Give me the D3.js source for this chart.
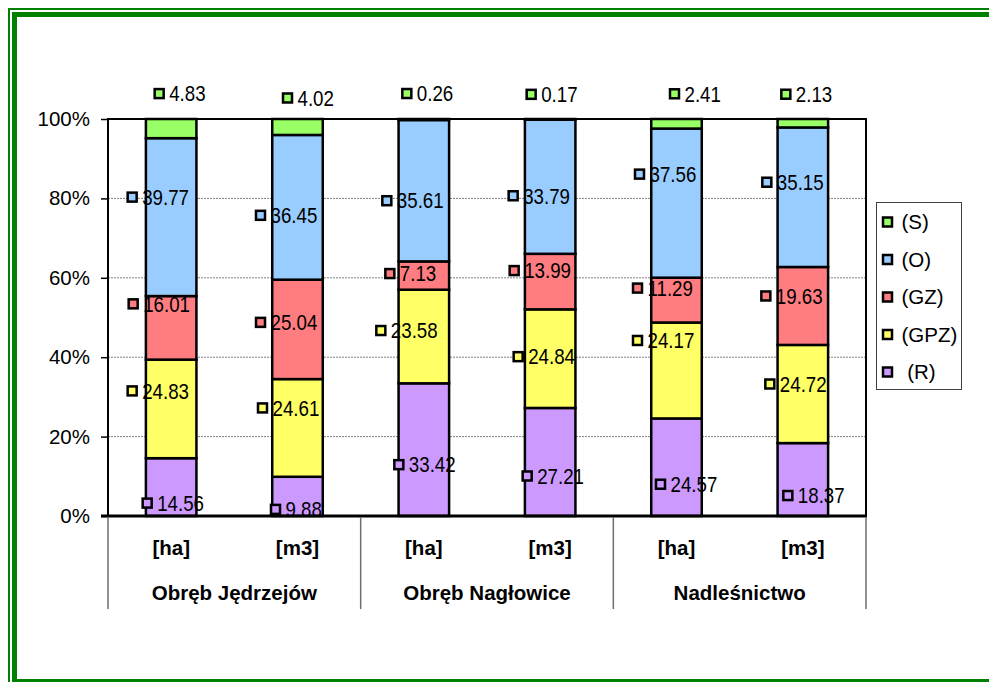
<!DOCTYPE html>
<html>
<head>
<meta charset="utf-8">
<script src="https://cdn.jsdelivr.net/npm/d3@7"></script>
<style>
  html, body { margin: 0; padding: 0; background: #fff; }
  svg { display: block; font-family: "Liberation Sans", Arial, sans-serif; }
</style>
</head>
<body>
<div id="chart"></div>
<script>
// bars (units) and their groups
const bars = ["[ha]", "[m3]", "[ha]", "[m3]", "[ha]", "[m3]"];
const groups = ["Obręb Jędrzejów", "Obręb Nagłowice", "Nadleśnictwo"];

// series, bottom to top of the stack
const seriesNames = ["(R)", "(GPZ)", "(GZ)", "(O)", "(S)"];
const valR   = [14.56, 9.88, 33.42, 27.21, 24.57, 18.37];
const valGPZ = [24.83, 24.61, 23.58, 24.84, 24.17, 24.72];
const valGZ  = [16.01, 25.04, 7.13, 13.99, 11.29, 19.63];
const valO   = [39.77, 36.45, 35.61, 33.79, 37.56, 35.15];
const valS   = [4.83, 4.02, 0.26, 0.17, 2.41, 2.13];
const yTicks = [0, 0.2, 0.4, 0.6, 0.8, 1];

const colors = {"(R)": "#cc99ff", "(GPZ)": "#ffff66", "(GZ)": "#ff7c80", "(O)": "#99ccff", "(S)": "#99ff66"};

// manual label offsets (px) from segment centre, as placed in the original
const labelNudge = {
  "(R)":   [[-24, 16], [-22, 13], [-25, 15], [-23, 14], [-16, 17], [-15, 16]],
  "(GPZ)": [[-39, -18], [-35, -20], [-43, -6], [-32, -2], [-39, -30], [-33, -10]],
  "(GZ)":  [[-38, -24], [-37, -7], [-34, -2], [-36, -11], [-39, -12], [-37, -10]],
  "(O)":   [[-39, -20], [-37, 8], [-37, 10], [-37, 9], [-37, -29], [-36, -15]],
  "(S)":   [[-12, -35], [-10, -29], [-17, -26], [-19, -25], [-2, -30], [-17, -29]]
};

const W = 989, H = 682;
const plot = {left: 108, right: 866, top: 119, bottom: 516};

const rows = bars.map((b, i) => ({
  id: String(i), unit: b,
  "(R)": valR[i], "(GPZ)": valGPZ[i], "(GZ)": valGZ[i], "(O)": valO[i], "(S)": valS[i]
}));

const stacked = d3.stack().keys(seriesNames)
  .offset(d3.stackOffsetExpand)(rows);

const svg = d3.select("#chart").append("svg")
  .attr("width", W)
  .attr("height", H);

svg.append("rect").attr("width", W).attr("height", H).attr("fill", "#fff");

// green double frame
svg.append("rect")
  .attr("x", 9).attr("y", 9).attr("width", 1000).attr("height", 690)
  .attr("fill", "none").attr("stroke", "#008000").attr("stroke-width", 2);
svg.append("rect")
  .attr("x", 14.5).attr("y", 14.5).attr("width", 1000).attr("height", 667)
  .attr("fill", "none").attr("stroke", "#008000").attr("stroke-width", 5);

const x = d3.scaleBand()
  .domain(rows.map(d => d.id))
  .range([plot.left, plot.right])
  .paddingInner(0.6)
  .paddingOuter(0.3);

const y = d3.scaleLinear().domain([0, 1]).range([plot.bottom, plot.top]);

// gridlines
svg.append("g")
  .selectAll("line")
  .data(yTicks.filter(t => t > 0 && t < 1))
  .enter().append("line")
  .attr("x1", plot.left).attr("x2", plot.right)
  .attr("y1", d => y(d)).attr("y2", d => y(d))
  .attr("stroke", "#808080")
  .attr("stroke-width", 1)
  .attr("stroke-dasharray", "2,1");

// y axis
const yAxis = svg.append("g")
  .attr("transform", `translate(${plot.left},0)`)
  .call(d3.axisLeft(y).tickValues(yTicks).tickFormat(d3.format(".0%")).tickSize(7).tickPadding(11));
yAxis.select(".domain").remove();
yAxis.selectAll(".tick line").attr("stroke", "#000").attr("stroke-width", 1.5);
yAxis.selectAll(".tick text")
  .attr("font-size", 20.5)
  .attr("fill", "#000")
  .attr("font-family", "Liberation Sans, Arial, sans-serif");

// bars
const layer = svg.append("g")
  .selectAll("g")
  .data(stacked)
  .enter().append("g")
  .attr("fill", d => colors[d.key]);

layer.selectAll("rect")
  .data(d => d)
  .enter().append("rect")
  .attr("x", d => x(d.data.id))
  .attr("width", x.bandwidth())
  .attr("y", d => y(d[1]))
  .attr("height", d => y(d[0]) - y(d[1]))
  .attr("stroke", "#000")
  .attr("stroke-width", 2.5);

// plot frame
svg.append("path")
  .attr("d", `M${plot.left},${plot.bottom}V${plot.top}H${plot.right}V${plot.bottom}`)
  .attr("fill", "none").attr("stroke", "#000").attr("stroke-width", 2);
svg.append("line")
  .attr("x1", plot.left - 7).attr("x2", plot.right + 1)
  .attr("y1", plot.bottom).attr("y2", plot.bottom)
  .attr("stroke", "#000").attr("stroke-width", 3);

// group separators
const groupStep = (plot.right - plot.left) / groups.length;
svg.append("g")
  .selectAll("line")
  .data(d3.range(groups.length + 1))
  .enter().append("line")
  .attr("x1", i => plot.left + i * groupStep)
  .attr("x2", i => plot.left + i * groupStep)
  .attr("y1", plot.bottom + 1).attr("y2", 609)
  .attr("stroke", "#6e6e6e").attr("stroke-width", 1.5);

// unit labels
svg.append("g")
  .selectAll("text")
  .data(rows)
  .enter().append("text")
  .attr("x", d => x(d.id) + x.bandwidth() / 2)
  .attr("y", 555)
  .attr("text-anchor", "middle")
  .attr("font-size", 20.5)
  .attr("font-weight", "bold")
  .text(d => d.unit);

// group labels
svg.append("g")
  .selectAll("text")
  .data(groups)
  .enter().append("text")
  .attr("x", (d, i) => plot.left + (i + 0.5) * groupStep)
  .attr("y", 600)
  .attr("text-anchor", "middle")
  .attr("font-size", 20.5)
  .attr("font-weight", "bold")
  .text(d => d);

// data labels with legend keys
const labelData = [];
stacked.forEach(s => {
  s.forEach((d, i) => {
    const nudge = labelNudge[s.key][i];
    labelData.push({
      key: s.key,
      value: d.data[s.key],
      cx: x(d.data.id) + x.bandwidth() / 2 + nudge[0],
      cy: (y(d[0]) + y(d[1])) / 2 + nudge[1]
    });
  });
});

const labels = svg.append("g")
  .selectAll("g")
  .data(labelData)
  .enter().append("g")
  .attr("transform", d => `translate(${d.cx},${d.cy})`);

labels.append("rect")
  .attr("x", -4.5).attr("y", -4.5)
  .attr("width", 9).attr("height", 9)
  .attr("fill", d => colors[d.key])
  .attr("stroke", "#000")
  .attr("stroke-width", 2.5);

// narrow, tall digits like the original
labels.append("text")
  .attr("transform", "translate(10,0) scale(0.87,1)")
  .attr("dy", "0.36em")
  .attr("font-size", 21.5)
  .attr("fill", "#000")
  .text(d => d3.format(".2f")(d.value));

// legend
const legend = svg.append("g");
legend.append("rect")
  .attr("x", 876.5).attr("y", 202.5)
  .attr("width", 85).attr("height", 187)
  .attr("fill", "#fff").attr("stroke", "#404040").attr("stroke-width", 1);

const legendOrder = seriesNames.slice().reverse();
const legendY = d3.scalePoint().domain(legendOrder).range([222, 372]);

const li = legend.selectAll("g.item")
  .data(legendOrder)
  .enter().append("g")
  .attr("class", "item")
  .attr("transform", d => `translate(887.5,${legendY(d)})`);

li.append("rect")
  .attr("x", -4.5).attr("y", -4.5)
  .attr("width", 9).attr("height", 9)
  .attr("fill", d => colors[d])
  .attr("stroke", "#000")
  .attr("stroke-width", 2.5);

li.append("text")
  .attr("x", 14)
  .attr("dy", "0.36em")
  .attr("font-size", 20.5)
  .attr("xml:space", "preserve")
  .style("white-space", "pre")
  .text(d => d === "(R)" ? " " + d : d);
</script>
</body>
</html>
